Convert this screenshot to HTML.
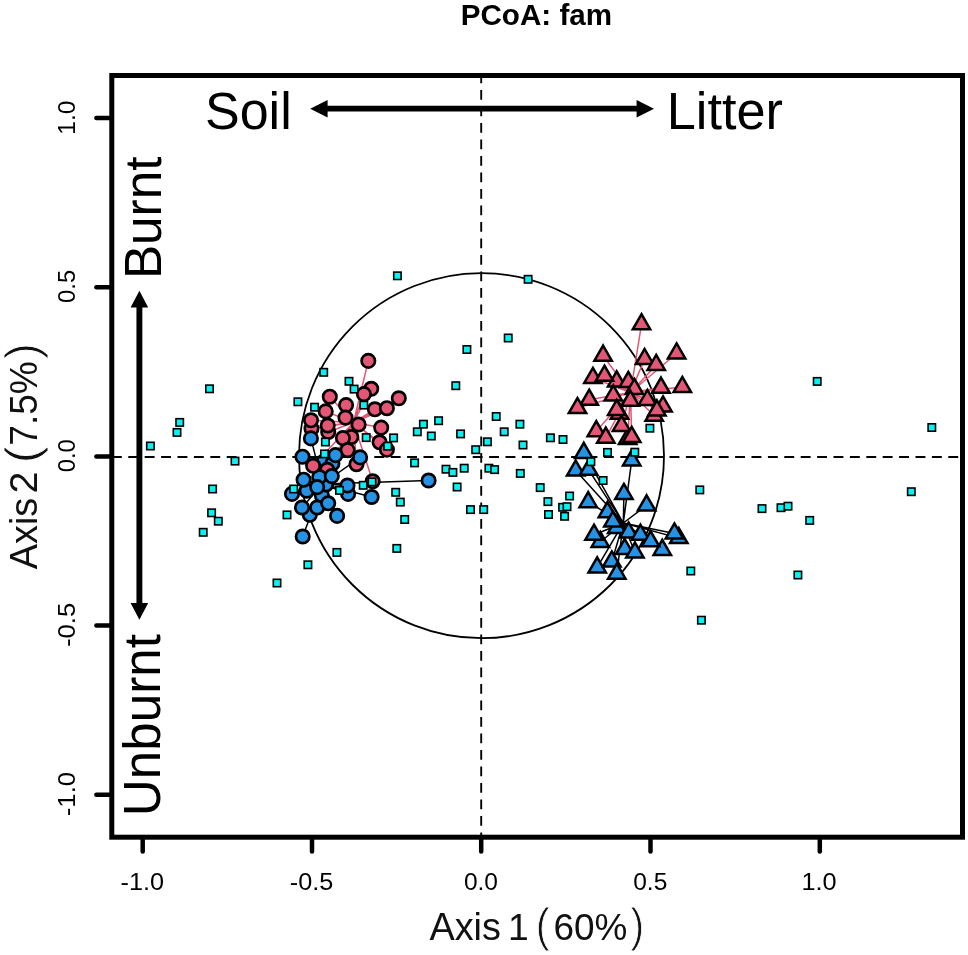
<!DOCTYPE html>
<html lang="en"><head><meta charset="utf-8"><title>PCoA: fam</title>
<style>
html,body{margin:0;padding:0;background:#fff}
body{width:968px;height:955px;overflow:hidden}
svg{display:block}
.t{font-family:"Liberation Sans",Arial,Helvetica,sans-serif}
</style></head><body>
<svg width="968" height="955" viewBox="0 0 968 955">
<rect width="968" height="955" fill="#fff"/>
<circle cx="481.5" cy="455.7" r="182.5" fill="none" stroke="#000" stroke-width="1.8"/>
<line x1="111.9" y1="457" x2="960" y2="457" stroke="#000" stroke-width="1.9" stroke-dasharray="9.9 6.5"/>
<line x1="481.2" y1="73.4" x2="481.2" y2="836" stroke="#000" stroke-width="1.9" stroke-dasharray="9.9 6.6"/>
<path d="M353.5 422.5L311.5 428.6M353.5 422.5L328.2 432.0M353.5 422.5L371.2 388.8M353.5 422.5L351.3 437.0M353.5 422.5L379.6 442.3M353.5 422.5L386.9 449.6M353.5 422.5L356.5 464.2M353.5 422.5L368.3 360.9M353.5 422.5L329.8 396.7M353.5 422.5L325.7 411.4M353.5 422.5L346.1 405.1M353.5 422.5L363.9 394.1M353.5 422.5L374.9 409.3M353.5 422.5L386.9 408.2M353.5 422.5L398.8 398.3M353.5 422.5L311.0 420.3M353.5 422.5L345.5 417.6M353.5 422.5L358.6 424.5M353.5 422.5L327.7 425.5M353.5 422.5L381.2 427.6M353.5 422.5L342.9 438.1M353.5 422.5L347.6 450.1M353.5 422.5L372.7 481.3M353.5 422.5L327.2 469.8M353.5 422.5L313.1 465.8" stroke="#e35674" stroke-width="1.5" fill="none"/>
<path d="M322.5 484.0L324.0 461.4M322.5 484.0L332.4 463.5M322.5 484.0L309.8 514.8M322.5 484.0L306.7 490.7M322.5 484.0L321.9 495.4M322.5 484.0L348.1 493.9M322.5 484.0L326.0 484.5M322.5 484.0L319.3 477.1M322.5 484.0L292.0 493.9M322.5 484.0L302.0 507.5M322.5 484.0L317.2 507.5M322.5 484.0L310.9 438.4M322.5 484.0L302.5 456.7M322.5 484.0L335.5 455.1M322.5 484.0L303.6 479.7M322.5 484.0L331.8 476.1M322.5 484.0L317.2 487.1M322.5 484.0L347.5 485.5M322.5 484.0L371.6 497.0M322.5 484.0L328.2 503.3M322.5 484.0L337.1 515.9M322.5 484.0L360.1 457.4M322.5 484.0L428.6 480.5M322.5 484.0L302.7 536.5" stroke="#000" stroke-width="1.5" fill="none"/>
<path d="M630.5 392.5L616.7 381.4M630.5 392.5L628.3 382.0M630.5 392.5L634.4 389.0M630.5 392.5L619.5 413.8M630.5 392.5L654.2 415.8M630.5 392.5L627.6 439.0M630.5 392.5L621.5 426.0M630.5 392.5L641.5 324.3M630.5 392.5L603.1 355.7M630.5 392.5L644.6 359.1M630.5 392.5L656.2 365.0M630.5 392.5L676.6 353.5M630.5 392.5L592.9 378.0M630.5 392.5L604.5 375.8M630.5 392.5L613.3 395.5M630.5 392.5L661.0 387.7M630.5 392.5L682.3 387.0M630.5 392.5L589.2 399.8M630.5 392.5L577.5 408.1M630.5 392.5L647.4 400.0M630.5 392.5L630.3 400.8M630.5 392.5L616.7 410.0M630.5 392.5L663.0 406.5M630.5 392.5L656.9 410.4M630.5 392.5L596.3 431.2M630.5 392.5L605.8 437.7M630.5 392.5L631.7 437.0" stroke="#e35674" stroke-width="1.5" fill="none"/>
<path d="M623.3 523.0L607.4 512.2M623.3 523.0L616.8 528.0M623.3 523.0L628.6 532.6M623.3 523.0L678.8 538.1M623.3 523.0L600.3 542.0M623.3 523.0L662.3 549.9M623.3 523.0L624.7 549.1M623.3 523.0L583.8 452.9M623.3 523.0L631.7 460.4M623.3 523.0L575.7 470.6M623.3 523.0L588.6 469.8M623.3 523.0L623.9 494.0M623.3 523.0L588.2 502.2M623.3 523.0L646.6 505.4M623.3 523.0L612.9 521.5M623.3 523.0L594.0 534.8M623.3 523.0L640.4 534.8M623.3 523.0L674.4 533.5M623.3 523.0L650.6 541.3M623.3 523.0L634.9 552.5M623.3 523.0L597.2 567.4M623.3 523.0L611.8 561.5M623.3 523.0L616.8 573.7" stroke="#000" stroke-width="1.5" fill="none"/>
<circle cx="311.5" cy="428.6" r="6.7" fill="#e35674" stroke="#000" stroke-width="2.7"/>
<circle cx="328.2" cy="432.0" r="6.7" fill="#e35674" stroke="#000" stroke-width="2.7"/>
<circle cx="371.2" cy="388.8" r="6.7" fill="#e35674" stroke="#000" stroke-width="2.7"/>
<circle cx="351.3" cy="437.0" r="6.7" fill="#e35674" stroke="#000" stroke-width="2.7"/>
<circle cx="379.6" cy="442.3" r="6.7" fill="#e35674" stroke="#000" stroke-width="2.7"/>
<circle cx="386.9" cy="449.6" r="6.7" fill="#e35674" stroke="#000" stroke-width="2.7"/>
<circle cx="356.5" cy="464.2" r="6.7" fill="#e35674" stroke="#000" stroke-width="2.7"/>
<circle cx="368.3" cy="360.9" r="6.7" fill="#e35674" stroke="#000" stroke-width="2.7"/>
<circle cx="329.8" cy="396.7" r="6.7" fill="#e35674" stroke="#000" stroke-width="2.7"/>
<circle cx="325.7" cy="411.4" r="6.7" fill="#e35674" stroke="#000" stroke-width="2.7"/>
<circle cx="346.1" cy="405.1" r="6.7" fill="#e35674" stroke="#000" stroke-width="2.7"/>
<circle cx="363.9" cy="394.1" r="6.7" fill="#e35674" stroke="#000" stroke-width="2.7"/>
<circle cx="374.9" cy="409.3" r="6.7" fill="#e35674" stroke="#000" stroke-width="2.7"/>
<circle cx="386.9" cy="408.2" r="6.7" fill="#e35674" stroke="#000" stroke-width="2.7"/>
<circle cx="398.8" cy="398.3" r="6.7" fill="#e35674" stroke="#000" stroke-width="2.7"/>
<circle cx="311.0" cy="420.3" r="6.7" fill="#e35674" stroke="#000" stroke-width="2.7"/>
<circle cx="345.5" cy="417.6" r="6.7" fill="#e35674" stroke="#000" stroke-width="2.7"/>
<circle cx="358.6" cy="424.5" r="6.7" fill="#e35674" stroke="#000" stroke-width="2.7"/>
<circle cx="327.7" cy="425.5" r="6.7" fill="#e35674" stroke="#000" stroke-width="2.7"/>
<circle cx="381.2" cy="427.6" r="6.7" fill="#e35674" stroke="#000" stroke-width="2.7"/>
<circle cx="342.9" cy="438.1" r="6.7" fill="#e35674" stroke="#000" stroke-width="2.7"/>
<circle cx="347.6" cy="450.1" r="6.7" fill="#e35674" stroke="#000" stroke-width="2.7"/>
<circle cx="372.7" cy="481.3" r="6.7" fill="#e35674" stroke="#000" stroke-width="2.7"/>
<circle cx="324.0" cy="461.4" r="6.7" fill="#2592e4" stroke="#000" stroke-width="2.7"/>
<circle cx="332.4" cy="463.5" r="6.7" fill="#2592e4" stroke="#000" stroke-width="2.7"/>
<circle cx="327.2" cy="469.8" r="6.7" fill="#e35674" stroke="#000" stroke-width="2.7"/>
<circle cx="309.8" cy="514.8" r="6.7" fill="#2592e4" stroke="#000" stroke-width="2.7"/>
<circle cx="306.7" cy="490.7" r="6.7" fill="#2592e4" stroke="#000" stroke-width="2.7"/>
<circle cx="321.9" cy="495.4" r="6.7" fill="#2592e4" stroke="#000" stroke-width="2.7"/>
<circle cx="348.1" cy="493.9" r="6.7" fill="#2592e4" stroke="#000" stroke-width="2.7"/>
<circle cx="326.0" cy="484.5" r="6.7" fill="#2592e4" stroke="#000" stroke-width="2.7"/>
<circle cx="319.3" cy="477.1" r="6.7" fill="#2592e4" stroke="#000" stroke-width="2.7"/>
<circle cx="292.0" cy="493.9" r="6.7" fill="#2592e4" stroke="#000" stroke-width="2.7"/>
<circle cx="302.0" cy="507.5" r="6.7" fill="#2592e4" stroke="#000" stroke-width="2.7"/>
<circle cx="317.2" cy="507.5" r="6.7" fill="#2592e4" stroke="#000" stroke-width="2.7"/>
<circle cx="310.9" cy="438.4" r="6.7" fill="#2592e4" stroke="#000" stroke-width="2.7"/>
<circle cx="302.5" cy="456.7" r="6.7" fill="#2592e4" stroke="#000" stroke-width="2.7"/>
<circle cx="335.5" cy="455.1" r="6.7" fill="#2592e4" stroke="#000" stroke-width="2.7"/>
<circle cx="303.6" cy="479.7" r="6.7" fill="#2592e4" stroke="#000" stroke-width="2.7"/>
<circle cx="331.8" cy="476.1" r="6.7" fill="#2592e4" stroke="#000" stroke-width="2.7"/>
<circle cx="317.2" cy="487.1" r="6.7" fill="#2592e4" stroke="#000" stroke-width="2.7"/>
<circle cx="347.5" cy="485.5" r="6.7" fill="#2592e4" stroke="#000" stroke-width="2.7"/>
<circle cx="371.6" cy="497.0" r="6.7" fill="#2592e4" stroke="#000" stroke-width="2.7"/>
<circle cx="328.2" cy="503.3" r="6.7" fill="#2592e4" stroke="#000" stroke-width="2.7"/>
<circle cx="337.1" cy="515.9" r="6.7" fill="#2592e4" stroke="#000" stroke-width="2.7"/>
<circle cx="360.1" cy="457.4" r="6.7" fill="#2592e4" stroke="#000" stroke-width="2.7"/>
<circle cx="428.6" cy="480.5" r="6.7" fill="#2592e4" stroke="#000" stroke-width="2.7"/>
<circle cx="302.7" cy="536.5" r="6.7" fill="#2592e4" stroke="#000" stroke-width="2.7"/>
<circle cx="313.1" cy="465.8" r="6.7" fill="#e35674" stroke="#000" stroke-width="2.7"/>
<path d="M616.7 371.3L625.4 386.4L608.0 386.4Z" fill="#e35674" stroke="#000" stroke-width="2.5" stroke-linejoin="miter"/>
<path d="M628.3 371.9L637.0 387.0L619.6 387.0Z" fill="#e35674" stroke="#000" stroke-width="2.5" stroke-linejoin="miter"/>
<path d="M634.4 378.9L643.1 394.0L625.7 394.0Z" fill="#e35674" stroke="#000" stroke-width="2.5" stroke-linejoin="miter"/>
<path d="M619.5 403.7L628.2 418.8L610.8 418.8Z" fill="#e35674" stroke="#000" stroke-width="2.5" stroke-linejoin="miter"/>
<path d="M654.2 405.7L662.9 420.8L645.5 420.8Z" fill="#e35674" stroke="#000" stroke-width="2.5" stroke-linejoin="miter"/>
<path d="M627.6 428.9L636.3 444.0L618.9 444.0Z" fill="#e35674" stroke="#000" stroke-width="2.5" stroke-linejoin="miter"/>
<path d="M621.5 415.9L630.2 431.0L612.8 431.0Z" fill="#e35674" stroke="#000" stroke-width="2.5" stroke-linejoin="miter"/>
<path d="M641.5 314.2L650.2 329.3L632.8 329.3Z" fill="#e35674" stroke="#000" stroke-width="2.5" stroke-linejoin="miter"/>
<path d="M603.1 345.6L611.8 360.7L594.4 360.7Z" fill="#e35674" stroke="#000" stroke-width="2.5" stroke-linejoin="miter"/>
<path d="M644.6 349.0L653.3 364.1L635.9 364.1Z" fill="#e35674" stroke="#000" stroke-width="2.5" stroke-linejoin="miter"/>
<path d="M656.2 354.9L664.9 370.0L647.5 370.0Z" fill="#e35674" stroke="#000" stroke-width="2.5" stroke-linejoin="miter"/>
<path d="M676.6 343.4L685.3 358.5L667.9 358.5Z" fill="#e35674" stroke="#000" stroke-width="2.5" stroke-linejoin="miter"/>
<path d="M592.9 367.9L601.6 383.0L584.2 383.0Z" fill="#e35674" stroke="#000" stroke-width="2.5" stroke-linejoin="miter"/>
<path d="M604.5 365.7L613.2 380.8L595.8 380.8Z" fill="#e35674" stroke="#000" stroke-width="2.5" stroke-linejoin="miter"/>
<path d="M613.3 385.4L622.0 400.5L604.6 400.5Z" fill="#e35674" stroke="#000" stroke-width="2.5" stroke-linejoin="miter"/>
<path d="M661.0 377.6L669.7 392.7L652.3 392.7Z" fill="#e35674" stroke="#000" stroke-width="2.5" stroke-linejoin="miter"/>
<path d="M682.3 376.9L691.0 392.0L673.6 392.0Z" fill="#e35674" stroke="#000" stroke-width="2.5" stroke-linejoin="miter"/>
<path d="M589.2 389.7L597.9 404.8L580.5 404.8Z" fill="#e35674" stroke="#000" stroke-width="2.5" stroke-linejoin="miter"/>
<path d="M577.5 398.0L586.2 413.1L568.8 413.1Z" fill="#e35674" stroke="#000" stroke-width="2.5" stroke-linejoin="miter"/>
<path d="M647.4 389.9L656.1 405.0L638.7 405.0Z" fill="#e35674" stroke="#000" stroke-width="2.5" stroke-linejoin="miter"/>
<path d="M630.3 390.7L639.0 405.8L621.6 405.8Z" fill="#e35674" stroke="#000" stroke-width="2.5" stroke-linejoin="miter"/>
<path d="M616.7 399.9L625.4 415.0L608.0 415.0Z" fill="#e35674" stroke="#000" stroke-width="2.5" stroke-linejoin="miter"/>
<path d="M663.0 396.4L671.7 411.5L654.3 411.5Z" fill="#e35674" stroke="#000" stroke-width="2.5" stroke-linejoin="miter"/>
<path d="M656.9 400.3L665.6 415.4L648.2 415.4Z" fill="#e35674" stroke="#000" stroke-width="2.5" stroke-linejoin="miter"/>
<path d="M596.3 421.1L605.0 436.2L587.6 436.2Z" fill="#e35674" stroke="#000" stroke-width="2.5" stroke-linejoin="miter"/>
<path d="M605.8 427.6L614.5 442.7L597.1 442.7Z" fill="#e35674" stroke="#000" stroke-width="2.5" stroke-linejoin="miter"/>
<path d="M631.7 426.9L640.4 442.0L623.0 442.0Z" fill="#e35674" stroke="#000" stroke-width="2.5" stroke-linejoin="miter"/>
<path d="M607.4 502.1L616.1 517.2L598.7 517.2Z" fill="#2592e4" stroke="#000" stroke-width="2.5" stroke-linejoin="miter"/>
<path d="M616.8 517.9L625.5 533.0L608.1 533.0Z" fill="#2592e4" stroke="#000" stroke-width="2.5" stroke-linejoin="miter"/>
<path d="M628.6 522.5L637.3 537.6L619.9 537.6Z" fill="#2592e4" stroke="#000" stroke-width="2.5" stroke-linejoin="miter"/>
<path d="M678.8 528.0L687.5 543.1L670.1 543.1Z" fill="#2592e4" stroke="#000" stroke-width="2.5" stroke-linejoin="miter"/>
<path d="M600.3 531.9L609.0 547.0L591.6 547.0Z" fill="#2592e4" stroke="#000" stroke-width="2.5" stroke-linejoin="miter"/>
<path d="M662.3 539.8L671.0 554.9L653.6 554.9Z" fill="#2592e4" stroke="#000" stroke-width="2.5" stroke-linejoin="miter"/>
<path d="M624.7 539.0L633.4 554.1L616.0 554.1Z" fill="#2592e4" stroke="#000" stroke-width="2.5" stroke-linejoin="miter"/>
<path d="M583.8 442.8L592.5 457.9L575.1 457.9Z" fill="#2592e4" stroke="#000" stroke-width="2.5" stroke-linejoin="miter"/>
<path d="M631.7 450.3L640.4 465.4L623.0 465.4Z" fill="#2592e4" stroke="#000" stroke-width="2.5" stroke-linejoin="miter"/>
<path d="M575.7 460.5L584.4 475.6L567.0 475.6Z" fill="#2592e4" stroke="#000" stroke-width="2.5" stroke-linejoin="miter"/>
<path d="M588.6 459.7L597.3 474.8L579.9 474.8Z" fill="#2592e4" stroke="#000" stroke-width="2.5" stroke-linejoin="miter"/>
<path d="M623.9 483.9L632.6 499.0L615.2 499.0Z" fill="#2592e4" stroke="#000" stroke-width="2.5" stroke-linejoin="miter"/>
<path d="M588.2 492.1L596.9 507.2L579.5 507.2Z" fill="#2592e4" stroke="#000" stroke-width="2.5" stroke-linejoin="miter"/>
<path d="M646.6 495.3L655.3 510.4L637.9 510.4Z" fill="#2592e4" stroke="#000" stroke-width="2.5" stroke-linejoin="miter"/>
<path d="M612.9 511.4L621.6 526.5L604.2 526.5Z" fill="#2592e4" stroke="#000" stroke-width="2.5" stroke-linejoin="miter"/>
<path d="M594.0 524.7L602.7 539.8L585.3 539.8Z" fill="#2592e4" stroke="#000" stroke-width="2.5" stroke-linejoin="miter"/>
<path d="M640.4 524.7L649.1 539.8L631.7 539.8Z" fill="#2592e4" stroke="#000" stroke-width="2.5" stroke-linejoin="miter"/>
<path d="M674.4 523.4L683.1 538.5L665.7 538.5Z" fill="#2592e4" stroke="#000" stroke-width="2.5" stroke-linejoin="miter"/>
<path d="M650.6 531.2L659.3 546.3L641.9 546.3Z" fill="#2592e4" stroke="#000" stroke-width="2.5" stroke-linejoin="miter"/>
<path d="M634.9 542.4L643.6 557.5L626.2 557.5Z" fill="#2592e4" stroke="#000" stroke-width="2.5" stroke-linejoin="miter"/>
<path d="M597.2 557.3L605.9 572.4L588.5 572.4Z" fill="#2592e4" stroke="#000" stroke-width="2.5" stroke-linejoin="miter"/>
<path d="M611.8 551.4L620.5 566.5L603.1 566.5Z" fill="#2592e4" stroke="#000" stroke-width="2.5" stroke-linejoin="miter"/>
<path d="M616.8 563.6L625.5 578.7L608.1 578.7Z" fill="#2592e4" stroke="#000" stroke-width="2.5" stroke-linejoin="miter"/>
<rect x="546.7" y="434.1" width="7.4" height="7.4" fill="#08f2f2" stroke="#000" stroke-width="1.6"/>
<rect x="559.3" y="435.8" width="7.4" height="7.4" fill="#08f2f2" stroke="#000" stroke-width="1.6"/>
<rect x="646.2" y="424.5" width="7.4" height="7.4" fill="#08f2f2" stroke="#000" stroke-width="1.6"/>
<rect x="603.8" y="448.7" width="7.4" height="7.4" fill="#08f2f2" stroke="#000" stroke-width="1.6"/>
<rect x="631.1" y="448.5" width="7.4" height="7.4" fill="#08f2f2" stroke="#000" stroke-width="1.6"/>
<rect x="587.2" y="458.0" width="7.4" height="7.4" fill="#08f2f2" stroke="#000" stroke-width="1.6"/>
<rect x="599.4" y="476.8" width="7.4" height="7.4" fill="#08f2f2" stroke="#000" stroke-width="1.6"/>
<rect x="565.9" y="492.3" width="7.4" height="7.4" fill="#08f2f2" stroke="#000" stroke-width="1.6"/>
<rect x="544.2" y="497.9" width="7.4" height="7.4" fill="#08f2f2" stroke="#000" stroke-width="1.6"/>
<rect x="558.9" y="503.6" width="7.4" height="7.4" fill="#08f2f2" stroke="#000" stroke-width="1.6"/>
<rect x="563.3" y="503.0" width="7.4" height="7.4" fill="#08f2f2" stroke="#000" stroke-width="1.6"/>
<rect x="544.8" y="510.8" width="7.4" height="7.4" fill="#08f2f2" stroke="#000" stroke-width="1.6"/>
<rect x="560.9" y="512.6" width="7.4" height="7.4" fill="#08f2f2" stroke="#000" stroke-width="1.6"/>
<rect x="696.1" y="486.2" width="7.4" height="7.4" fill="#08f2f2" stroke="#000" stroke-width="1.6"/>
<rect x="687.1" y="567.3" width="7.4" height="7.4" fill="#08f2f2" stroke="#000" stroke-width="1.6"/>
<rect x="393.7" y="272.1" width="7.4" height="7.4" fill="#08f2f2" stroke="#000" stroke-width="1.6"/>
<rect x="524.4" y="275.6" width="7.4" height="7.4" fill="#08f2f2" stroke="#000" stroke-width="1.6"/>
<rect x="504.5" y="334.3" width="7.4" height="7.4" fill="#08f2f2" stroke="#000" stroke-width="1.6"/>
<rect x="463.2" y="345.8" width="7.4" height="7.4" fill="#08f2f2" stroke="#000" stroke-width="1.6"/>
<rect x="452.1" y="382.0" width="7.4" height="7.4" fill="#08f2f2" stroke="#000" stroke-width="1.6"/>
<rect x="492.5" y="412.8" width="7.4" height="7.4" fill="#08f2f2" stroke="#000" stroke-width="1.6"/>
<rect x="516.2" y="420.5" width="7.4" height="7.4" fill="#08f2f2" stroke="#000" stroke-width="1.6"/>
<rect x="434.9" y="417.0" width="7.4" height="7.4" fill="#08f2f2" stroke="#000" stroke-width="1.6"/>
<rect x="419.7" y="420.5" width="7.4" height="7.4" fill="#08f2f2" stroke="#000" stroke-width="1.6"/>
<rect x="413.6" y="428.1" width="7.4" height="7.4" fill="#08f2f2" stroke="#000" stroke-width="1.6"/>
<rect x="427.6" y="432.3" width="7.4" height="7.4" fill="#08f2f2" stroke="#000" stroke-width="1.6"/>
<rect x="456.9" y="430.2" width="7.4" height="7.4" fill="#08f2f2" stroke="#000" stroke-width="1.6"/>
<rect x="500.5" y="428.1" width="7.4" height="7.4" fill="#08f2f2" stroke="#000" stroke-width="1.6"/>
<rect x="483.7" y="438.1" width="7.4" height="7.4" fill="#08f2f2" stroke="#000" stroke-width="1.6"/>
<rect x="519.3" y="441.3" width="7.4" height="7.4" fill="#08f2f2" stroke="#000" stroke-width="1.6"/>
<rect x="389.9" y="434.2" width="7.4" height="7.4" fill="#08f2f2" stroke="#000" stroke-width="1.6"/>
<rect x="384.0" y="442.5" width="7.4" height="7.4" fill="#08f2f2" stroke="#000" stroke-width="1.6"/>
<rect x="472.0" y="446.0" width="7.4" height="7.4" fill="#08f2f2" stroke="#000" stroke-width="1.6"/>
<rect x="410.9" y="459.2" width="7.4" height="7.4" fill="#08f2f2" stroke="#000" stroke-width="1.6"/>
<rect x="442.3" y="465.5" width="7.4" height="7.4" fill="#08f2f2" stroke="#000" stroke-width="1.6"/>
<rect x="449.2" y="468.7" width="7.4" height="7.4" fill="#08f2f2" stroke="#000" stroke-width="1.6"/>
<rect x="460.5" y="464.5" width="7.4" height="7.4" fill="#08f2f2" stroke="#000" stroke-width="1.6"/>
<rect x="485.2" y="464.5" width="7.4" height="7.4" fill="#08f2f2" stroke="#000" stroke-width="1.6"/>
<rect x="490.9" y="465.9" width="7.4" height="7.4" fill="#08f2f2" stroke="#000" stroke-width="1.6"/>
<rect x="516.6" y="469.7" width="7.4" height="7.4" fill="#08f2f2" stroke="#000" stroke-width="1.6"/>
<rect x="453.4" y="483.3" width="7.4" height="7.4" fill="#08f2f2" stroke="#000" stroke-width="1.6"/>
<rect x="536.5" y="483.9" width="7.4" height="7.4" fill="#08f2f2" stroke="#000" stroke-width="1.6"/>
<rect x="392.0" y="488.6" width="7.4" height="7.4" fill="#08f2f2" stroke="#000" stroke-width="1.6"/>
<rect x="396.6" y="498.4" width="7.4" height="7.4" fill="#08f2f2" stroke="#000" stroke-width="1.6"/>
<rect x="466.8" y="505.9" width="7.4" height="7.4" fill="#08f2f2" stroke="#000" stroke-width="1.6"/>
<rect x="480.0" y="505.9" width="7.4" height="7.4" fill="#08f2f2" stroke="#000" stroke-width="1.6"/>
<rect x="401.0" y="515.8" width="7.4" height="7.4" fill="#08f2f2" stroke="#000" stroke-width="1.6"/>
<rect x="393.1" y="544.7" width="7.4" height="7.4" fill="#08f2f2" stroke="#000" stroke-width="1.6"/>
<rect x="205.8" y="385.1" width="7.4" height="7.4" fill="#08f2f2" stroke="#000" stroke-width="1.6"/>
<rect x="294.2" y="398.1" width="7.4" height="7.4" fill="#08f2f2" stroke="#000" stroke-width="1.6"/>
<rect x="176.0" y="418.7" width="7.4" height="7.4" fill="#08f2f2" stroke="#000" stroke-width="1.6"/>
<rect x="173.3" y="428.7" width="7.4" height="7.4" fill="#08f2f2" stroke="#000" stroke-width="1.6"/>
<rect x="146.7" y="442.3" width="7.4" height="7.4" fill="#08f2f2" stroke="#000" stroke-width="1.6"/>
<rect x="231.3" y="457.4" width="7.4" height="7.4" fill="#08f2f2" stroke="#000" stroke-width="1.6"/>
<rect x="208.9" y="485.3" width="7.4" height="7.4" fill="#08f2f2" stroke="#000" stroke-width="1.6"/>
<rect x="207.9" y="509.1" width="7.4" height="7.4" fill="#08f2f2" stroke="#000" stroke-width="1.6"/>
<rect x="214.6" y="517.5" width="7.4" height="7.4" fill="#08f2f2" stroke="#000" stroke-width="1.6"/>
<rect x="199.5" y="528.6" width="7.4" height="7.4" fill="#08f2f2" stroke="#000" stroke-width="1.6"/>
<rect x="290.0" y="485.3" width="7.4" height="7.4" fill="#08f2f2" stroke="#000" stroke-width="1.6"/>
<rect x="283.3" y="511.2" width="7.4" height="7.4" fill="#08f2f2" stroke="#000" stroke-width="1.6"/>
<rect x="304.2" y="561.1" width="7.4" height="7.4" fill="#08f2f2" stroke="#000" stroke-width="1.6"/>
<rect x="273.3" y="579.3" width="7.4" height="7.4" fill="#08f2f2" stroke="#000" stroke-width="1.6"/>
<rect x="320.0" y="368.6" width="7.4" height="7.4" fill="#08f2f2" stroke="#000" stroke-width="1.6"/>
<rect x="345.3" y="377.6" width="7.4" height="7.4" fill="#08f2f2" stroke="#000" stroke-width="1.6"/>
<rect x="350.4" y="385.4" width="7.4" height="7.4" fill="#08f2f2" stroke="#000" stroke-width="1.6"/>
<rect x="310.9" y="403.5" width="7.4" height="7.4" fill="#08f2f2" stroke="#000" stroke-width="1.6"/>
<rect x="360.1" y="401.4" width="7.4" height="7.4" fill="#08f2f2" stroke="#000" stroke-width="1.6"/>
<rect x="321.7" y="438.3" width="7.4" height="7.4" fill="#08f2f2" stroke="#000" stroke-width="1.6"/>
<rect x="320.8" y="450.2" width="7.4" height="7.4" fill="#08f2f2" stroke="#000" stroke-width="1.6"/>
<rect x="362.5" y="433.9" width="7.4" height="7.4" fill="#08f2f2" stroke="#000" stroke-width="1.6"/>
<rect x="368.3" y="478.2" width="7.4" height="7.4" fill="#08f2f2" stroke="#000" stroke-width="1.6"/>
<rect x="359.5" y="481.6" width="7.4" height="7.4" fill="#08f2f2" stroke="#000" stroke-width="1.6"/>
<rect x="335.8" y="486.7" width="7.4" height="7.4" fill="#08f2f2" stroke="#000" stroke-width="1.6"/>
<rect x="333.2" y="548.7" width="7.4" height="7.4" fill="#08f2f2" stroke="#000" stroke-width="1.6"/>
<rect x="813.5" y="377.7" width="7.4" height="7.4" fill="#08f2f2" stroke="#000" stroke-width="1.6"/>
<rect x="928.1" y="423.8" width="7.4" height="7.4" fill="#08f2f2" stroke="#000" stroke-width="1.6"/>
<rect x="758.3" y="504.9" width="7.4" height="7.4" fill="#08f2f2" stroke="#000" stroke-width="1.6"/>
<rect x="777.3" y="504.0" width="7.4" height="7.4" fill="#08f2f2" stroke="#000" stroke-width="1.6"/>
<rect x="784.3" y="502.5" width="7.4" height="7.4" fill="#08f2f2" stroke="#000" stroke-width="1.6"/>
<rect x="806.0" y="516.7" width="7.4" height="7.4" fill="#08f2f2" stroke="#000" stroke-width="1.6"/>
<rect x="907.6" y="488.0" width="7.4" height="7.4" fill="#08f2f2" stroke="#000" stroke-width="1.6"/>
<rect x="794.2" y="571.3" width="7.4" height="7.4" fill="#08f2f2" stroke="#000" stroke-width="1.6"/>
<rect x="697.7" y="616.5" width="7.4" height="7.4" fill="#08f2f2" stroke="#000" stroke-width="1.6"/>
<rect x="111.8" y="75.5" width="850.7" height="761.7" fill="none" stroke="#000" stroke-width="5"/>
<line x1="142.7" y1="838" x2="142.7" y2="851.4" stroke="#000" stroke-width="4.5" stroke-linecap="round"/>
<text x="120.59" y="889.80" font-size="23" fill="#000" class="t" textLength="43.52" lengthAdjust="spacingAndGlyphs">-1.0</text>
<line x1="312" y1="838" x2="312" y2="851.4" stroke="#000" stroke-width="4.5" stroke-linecap="round"/>
<text x="289.89" y="889.80" font-size="23" fill="#000" class="t" textLength="43.52" lengthAdjust="spacingAndGlyphs">-0.5</text>
<line x1="481.2" y1="838" x2="481.2" y2="851.4" stroke="#000" stroke-width="4.5" stroke-linecap="round"/>
<text x="463.91" y="889.80" font-size="23" fill="#000" class="t" textLength="34.12" lengthAdjust="spacingAndGlyphs">0.0</text>
<line x1="650.5" y1="838" x2="650.5" y2="851.4" stroke="#000" stroke-width="4.5" stroke-linecap="round"/>
<text x="633.21" y="889.80" font-size="23" fill="#000" class="t" textLength="34.12" lengthAdjust="spacingAndGlyphs">0.5</text>
<line x1="819.8" y1="838" x2="819.8" y2="851.4" stroke="#000" stroke-width="4.5" stroke-linecap="round"/>
<text x="801.48" y="889.80" font-size="23" fill="#000" class="t" textLength="35.19" lengthAdjust="spacingAndGlyphs">1.0</text>
<line x1="96.4" y1="117.9" x2="110" y2="117.9" stroke="#000" stroke-width="4.5" stroke-linecap="round"/>
<text transform="translate(74.60 134.72) rotate(-90)" font-size="23" fill="#000" class="t" textLength="34.21" lengthAdjust="spacingAndGlyphs">1.0</text>
<line x1="96.4" y1="287.2" x2="110" y2="287.2" stroke="#000" stroke-width="4.5" stroke-linecap="round"/>
<text transform="translate(74.60 303.02) rotate(-90)" font-size="23" fill="#000" class="t" textLength="33.18" lengthAdjust="spacingAndGlyphs">0.5</text>
<line x1="96.4" y1="456.5" x2="110" y2="456.5" stroke="#000" stroke-width="4.5" stroke-linecap="round"/>
<text transform="translate(74.60 472.32) rotate(-90)" font-size="23" fill="#000" class="t" textLength="33.18" lengthAdjust="spacingAndGlyphs">0.0</text>
<line x1="96.4" y1="625.5" x2="110" y2="625.5" stroke="#000" stroke-width="4.5" stroke-linecap="round"/>
<text transform="translate(74.60 646.98) rotate(-90)" font-size="23" fill="#000" class="t" textLength="44.26" lengthAdjust="spacingAndGlyphs">-0.5</text>
<line x1="96.4" y1="794.7" x2="110" y2="794.7" stroke="#000" stroke-width="4.5" stroke-linecap="round"/>
<text transform="translate(74.60 816.18) rotate(-90)" font-size="23" fill="#000" class="t" textLength="44.26" lengthAdjust="spacingAndGlyphs">-1.0</text>
<text x="460.72" y="24.80" font-size="28.6" font-weight="bold" fill="#000" class="t" textLength="151.33" lengthAdjust="spacingAndGlyphs">PCoA: fam</text>
<text x="429.40" y="939.60" font-size="38.3" fill="#111" class="t" textLength="71.54" lengthAdjust="spacingAndGlyphs">Axis</text>
<text x="507.99" y="939.60" font-size="37.6" fill="#111" class="t" textLength="20.73" lengthAdjust="spacingAndGlyphs">1</text>
<text x="535.79" y="941.40" font-size="46.6" stroke="#fff" stroke-width="0.9" fill="#111" class="t" textLength="13.94" lengthAdjust="spacingAndGlyphs">(</text>
<text x="553.55" y="939.60" font-size="37.6" fill="#111" class="t" textLength="73.92" lengthAdjust="spacingAndGlyphs">60%</text>
<text x="630.60" y="941.40" font-size="46.6" stroke="#fff" stroke-width="0.9" fill="#111" class="t" textLength="13.68" lengthAdjust="spacingAndGlyphs">)</text>
<text transform="translate(37.30 569.20) rotate(-90)" font-size="38.3" fill="#111" class="t" textLength="71.43" lengthAdjust="spacingAndGlyphs">Axis</text>
<text transform="translate(37.30 493.38) rotate(-90)" font-size="38.3" fill="#111" class="t" textLength="22.00" lengthAdjust="spacingAndGlyphs">2</text>
<text transform="translate(38.20 463.56) rotate(-90)" font-size="46.3" stroke="#fff" stroke-width="0.9" fill="#111" class="t" textLength="17.51" lengthAdjust="spacingAndGlyphs">(</text>
<text transform="translate(37.00 445.76) rotate(-90)" font-size="38.0" fill="#111" class="t" textLength="84.64" lengthAdjust="spacingAndGlyphs">7.5%</text>
<text transform="translate(38.20 359.10) rotate(-90)" font-size="46.3" stroke="#fff" stroke-width="0.9" fill="#111" class="t" textLength="15.94" lengthAdjust="spacingAndGlyphs">)</text>
<text x="204.92" y="129.40" font-size="51" fill="#000" class="t" textLength="86.82" lengthAdjust="spacingAndGlyphs">Soil</text>
<text x="666.72" y="129.20" font-size="51" fill="#000" class="t" textLength="116.16" lengthAdjust="spacingAndGlyphs">Litter</text>
<text transform="translate(161.00 279.10) rotate(-90)" font-size="51" fill="#000" class="t" textLength="122.49" lengthAdjust="spacingAndGlyphs">Burnt</text>
<text transform="translate(160.30 816.18) rotate(-90)" font-size="51" fill="#000" class="t" textLength="182.07" lengthAdjust="spacingAndGlyphs">Unburnt</text>
<line x1="325.59999999999997" y1="108.7" x2="638.6" y2="108.7" stroke="#000" stroke-width="5.8"/>
<path d="M310.2 108.7L327.59999999999997 99.9L327.59999999999997 117.5Z M654 108.7L636.6 99.9L636.6 117.5Z" fill="#000"/>
<line x1="139.4" y1="305.5" x2="139.4" y2="605.0" stroke="#000" stroke-width="5.9"/>
<path d="M139.4 290.8L130.6 307.5L148.20000000000002 307.5Z M139.4 619.7L130.6 603.0L148.20000000000002 603.0Z" fill="#000"/>
</svg>
</body></html>
